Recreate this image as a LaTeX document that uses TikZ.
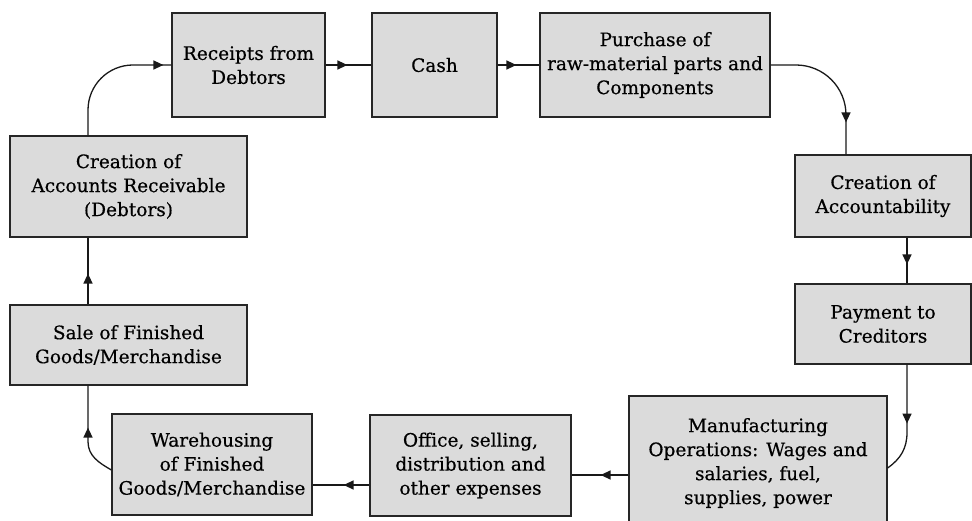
\documentclass[tikz,border=0pt]{standalone}
\usepackage{fontspec}
\setmainfont[FakeBold=0.5]{DejaVu Serif}
\usetikzlibrary{arrows.meta,decorations.markings,calc}
\begin{document}
\begin{tikzpicture}[x=1pt,y=-1pt,
  box/.style={draw=black!85,line width=1.2pt,fill=black!14,align=center,inner sep=0pt,
    font=\fontsize{18.5}{24}\selectfont},
  conn/.style={line width=1.3pt,draw=black!90},
  tipat/.style={postaction={decorate,decoration={markings,
    mark=at position #1 with {\arrow{Triangle[length=10pt,width=9pt]}}}}}]
\useasboundingbox (0,0) rectangle (972,521);
\fill[white] (0,0) rectangle (972,521);
% boxes
\node[box,minimum width=153pt,minimum height=104pt] (rec) at (248.5,65) {Receipts from\\Debtors};
\node[box,minimum width=125pt,minimum height=104pt] (cash) at (434.5,65) {Cash};
\node[box,minimum width=230pt,minimum height=104pt] (pur) at (655,65) {Purchase of\\raw-material parts and\\Components};
\node[box,minimum width=176pt,minimum height=82pt] (coa) at (883,196) {Creation of\\Accountability};
\node[box,minimum width=176pt,minimum height=80pt] (pay) at (883,324) {Payment to\\Creditors};
\node[box,minimum width=258pt,minimum height=134pt] (manu) at (758,463) {Manufacturing\\Operations: Wages and\\salaries, fuel,\\supplies, power};
\node[box,minimum width=201pt,minimum height=101pt] (off) at (470.5,465.5) {Office, selling,\\distribution and\\other expenses};
\node[box,minimum width=200pt,minimum height=101pt] (ware) at (212,464.5) {Warehousing\\of Finished\\Goods/Merchandise};
\node[box,minimum width=237pt,minimum height=80pt] (sale) at (128.5,345) {Sale of Finished\\Goods/Merchandise};
\node[box,minimum width=237pt,minimum height=101pt] (ar) at (128.5,186.5) {Creation of\\Accounts Receivable\\(Debtors)};
% helper coordinates
\coordinate (xa) at (88,0);
\coordinate (xb) at (846,0);
\coordinate (xc) at (907,0);
\coordinate (y1) at (0,475);
\coordinate (y2) at (0,485);
\coordinate (y3) at (0,468);
\coordinate (y4) at (0,470);
% connectors
\draw[conn,rounded corners=45pt,tipat=-8pt] (ar.north -| xa) |- (rec.west);
\draw[conn,tipat=-24pt] (rec.east) -- (cash.west);
\draw[conn,tipat=-23pt] (cash.east) -- (pur.west);
\draw[conn,rounded corners=50pt,tipat=-32pt] (pur.east) -| (coa.north -| xb);
\draw[conn,tipat=-19pt] (coa.south -| xc) -- (pay.north -| xc);
\draw[conn,tipat=59pt] (pay.south -| xc) -- ($(pay.south -| xc)+(0,68)$) to[out=-90,in=35] (manu.east |- y3);
\draw[conn,tipat=-29pt] (manu.west |- y1) -- (off.east |- y1);
\draw[conn,tipat=-31pt] (off.west |- y2) -- (ware.east |- y2);
\draw[conn,tipat=-42pt] (ware.west |- y4) to[out=150,in=-90] ($(sale.south -| xa)+(0,56)$) -- (sale.south -| xa);
\draw[conn,tipat=-36pt] (sale.north -| xa) -- (ar.south -| xa);
\end{tikzpicture}
\end{document}
